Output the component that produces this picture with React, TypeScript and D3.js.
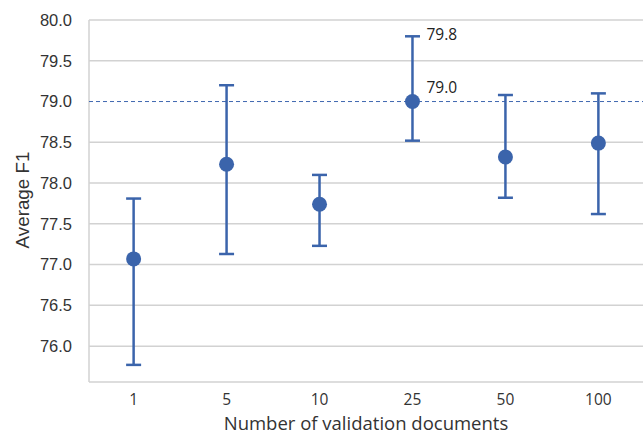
import React from "react";
import * as d3 from "d3";

const categories = ["1", "5", "10", "25", "50", "100"];
const means = [77.07, 78.23, 77.74, 79.0, 78.32, 78.49];
const lowers = [75.77, 77.13, 77.23, 78.52, 77.82, 77.62];
const uppers = [77.81, 79.2, 78.1, 79.8, 79.08, 79.1];
const yTicks = [76.0, 76.5, 77.0, 77.5, 78.0, 78.5, 79.0, 79.5, 80.0];
const refLine = 79.0;
const annotations = [
  { label: "79.8", value: 79.8 },
  { label: "79.0", value: 79.0 },
];
const annotatedCategory = "25";

const W = 643;
const H = 437;
const margin = { top: 20, right: 0, bottom: 55, left: 89 };

const App = () => {
  const svgRef = React.useRef<SVGSVGElement>(null);

  React.useEffect(() => {
    const svgEl = d3.select(svgRef.current);
    svgEl.selectAll("*").remove();

    const x = d3
      .scalePoint()
      .domain(categories)
      .range([margin.left, W - margin.right])
      .padding(0.48);
    const y = d3
      .scaleLinear()
      .domain([75.56, 80.0])
      .range([H - margin.bottom, margin.top]);

    const blue = "#3b64ab";
    const grid = "#d2d2d2";
    const sans = "'Liberation Sans', Arial, sans-serif";
    const open = "'Open Sans', 'Noto Sans', sans-serif";

    // horizontal grid lines
    svgEl
      .append("g")
      .selectAll("line")
      .data(yTicks.filter((t) => t !== refLine))
      .enter()
      .append("line")
      .attr("x1", margin.left)
      .attr("x2", W)
      .attr("y1", (d) => y(d))
      .attr("y2", (d) => y(d))
      .attr("stroke", grid)
      .attr("stroke-width", 1.5);

    // frame: left and bottom
    svgEl
      .append("line")
      .attr("x1", margin.left)
      .attr("x2", margin.left)
      .attr("y1", y(80))
      .attr("y2", H - margin.bottom)
      .attr("stroke", grid)
      .attr("stroke-width", 1.5);
    svgEl
      .append("line")
      .attr("x1", margin.left)
      .attr("x2", W)
      .attr("y1", H - margin.bottom)
      .attr("y2", H - margin.bottom)
      .attr("stroke", grid)
      .attr("stroke-width", 1.5);

    // reference dashed line
    svgEl
      .append("line")
      .attr("x1", margin.left)
      .attr("x2", W)
      .attr("y1", y(refLine))
      .attr("y2", y(refLine))
      .attr("stroke", "#3f68b0")
      .attr("stroke-width", 1)
      .attr("stroke-dasharray", "4,3");

    // y tick labels
    svgEl
      .append("g")
      .selectAll("text")
      .data(yTicks)
      .enter()
      .append("text")
      .attr("x", 72)
      .attr("y", (d) => y(d))
      .attr("dy", "0.35em")
      .attr("text-anchor", "end")
      .attr("font-family", sans)
      .attr("font-size", 16.5)
      .attr("fill", "#333")
      .text((d) => d.toFixed(1));

    // x tick labels
    svgEl
      .append("g")
      .selectAll("text")
      .data(categories)
      .enter()
      .append("text")
      .attr("x", (d) => x(d)!)
      .attr("y", 400)
      .attr("dy", "0.35em")
      .attr("text-anchor", "middle")
      .attr("font-family", open)
      .attr("font-size", 15.5)
      .attr("fill", "#333")
      .text((d) => d);

    // axis titles
    svgEl
      .append("text")
      .attr("x", 366)
      .attr("y", 424)
      .attr("dy", "0.35em")
      .attr("text-anchor", "middle")
      .attr("font-family", open)
      .attr("font-size", 18.5)
      .attr("fill", "#333")
      .text("Number of validation documents");
    svgEl
      .append("text")
      .attr("transform", `translate(22, 200) rotate(-90)`)
      .attr("dy", "0.35em")
      .attr("text-anchor", "middle")
      .attr("font-family", sans)
      .attr("font-size", 18.8)
      .attr("fill", "#333")
      .text("Average F1");

    // error bars
    const bars = svgEl
      .append("g")
      .selectAll("g")
      .data(categories)
      .enter()
      .append("g");
    bars
      .append("line")
      .attr("x1", (d) => x(d)!)
      .attr("x2", (d) => x(d)!)
      .attr("y1", (_, i) => y(lowers[i]))
      .attr("y2", (_, i) => y(uppers[i]))
      .attr("stroke", blue)
      .attr("stroke-width", 2.5);
    bars
      .append("line")
      .attr("x1", (d) => x(d)! - 7.5)
      .attr("x2", (d) => x(d)! + 7.5)
      .attr("y1", (_, i) => y(lowers[i]))
      .attr("y2", (_, i) => y(lowers[i]))
      .attr("stroke", blue)
      .attr("stroke-width", 2.5);
    bars
      .append("line")
      .attr("x1", (d) => x(d)! - 7.5)
      .attr("x2", (d) => x(d)! + 7.5)
      .attr("y1", (_, i) => y(uppers[i]))
      .attr("y2", (_, i) => y(uppers[i]))
      .attr("stroke", blue)
      .attr("stroke-width", 2.5);
    bars
      .append("circle")
      .attr("cx", (d) => x(d)!)
      .attr("cy", (_, i) => y(means[i]))
      .attr("r", 7.5)
      .attr("fill", blue);

    // value annotations
    svgEl
      .append("g")
      .selectAll("text")
      .data(annotations)
      .enter()
      .append("text")
      .attr("x", x(annotatedCategory)! + 14)
      .attr("y", (d) => (d.value === refLine ? y(d.value) - 14 : y(d.value) - 2))
      .attr("dy", "0.35em")
      .attr("font-family", open)
      .attr("font-size", 15.5)
      .attr("fill", "#222")
      .text((d) => d.label);
  }, []);

  return (
    <svg
      ref={svgRef}
      width={W}
      height={H}
      style={{ position: "absolute", left: 0, top: 0, background: "#fff" }}
    />
  );
};

export default App;
